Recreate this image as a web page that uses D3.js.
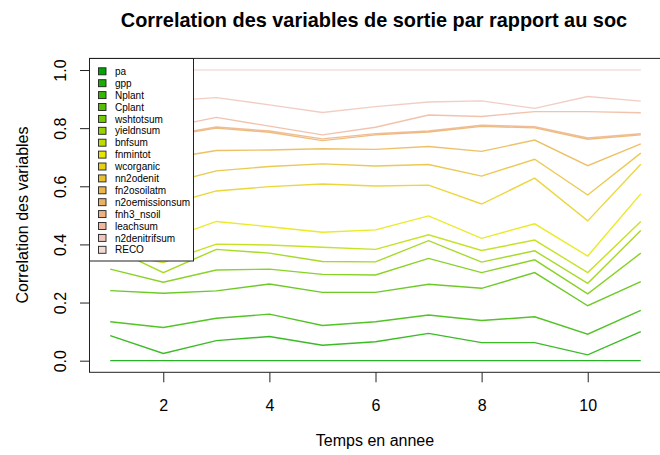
<!DOCTYPE html>
<html>
<head>
<meta charset="utf-8">
<script src="https://cdn.jsdelivr.net/npm/d3@7/dist/d3.min.js"></script>
<style>
  html, body { margin: 0; padding: 0; background: #fff; }
  svg { display: block; font-family: "Liberation Sans", Arial, Helvetica, sans-serif; }
</style>
</head>
<body>
<svg id="chart" width="660" height="455"></svg>
<script>
// Years of simulation (x axis)
const years = [1, 2, 3, 4, 5, 6, 7, 8, 9, 10, 11];
const xTicks = [2, 4, 6, 8, 10];
const yTicks = [0, 0.2, 0.4, 0.6, 0.8, 1.0];

// Output variable names, in legend order
const variables = ["pa", "gpp", "Nplant", "Cplant", "wshtotsum", "yieldnsum", "bnfsum",
  "fnmintot", "wcorganic", "nn2odenit", "fn2osoilatm", "n2oemissionsum", "fnh3_nsoil",
  "leachsum", "n2denitrifsum", "RECO"];

// Correlation with soc, per year
const pa             = [0, 0, 0, 0, 0, 0, 0, 0, 0, 0, 0];
const gpp            = [0.086, 0.025, 0.069, 0.083, 0.053, 0.065, 0.094, 0.062, 0.062, 0.020, 0.100];
const Nplant         = [0.134, 0.114, 0.146, 0.160, 0.121, 0.134, 0.157, 0.138, 0.151, 0.091, 0.173];
const Cplant         = [0.241, 0.232, 0.240, 0.264, 0.235, 0.235, 0.263, 0.249, 0.303, 0.189, 0.272];
const wshtotsum      = [0.315, 0.270, 0.312, 0.315, 0.297, 0.295, 0.352, 0.303, 0.347, 0.230, 0.370];
const yieldnsum      = [0.390, 0.303, 0.383, 0.370, 0.341, 0.340, 0.413, 0.339, 0.378, 0.266, 0.448];
const bnfsum         = [0.370, 0.338, 0.401, 0.398, 0.390, 0.383, 0.433, 0.379, 0.415, 0.303, 0.479];
const fnmintot       = [0.440, 0.414, 0.479, 0.461, 0.442, 0.450, 0.498, 0.421, 0.471, 0.360, 0.574];
const wcorganic      = [0.510, 0.533, 0.584, 0.599, 0.608, 0.601, 0.604, 0.539, 0.628, 0.481, 0.676];
const nn2odenit      = [0.590, 0.606, 0.653, 0.668, 0.677, 0.670, 0.675, 0.635, 0.693, 0.570, 0.714];
const fn2osoilatm    = [0.680, 0.693, 0.723, 0.725, 0.729, 0.727, 0.737, 0.720, 0.759, 0.671, 0.746];
const n2oemissionsum = [0.760, 0.770, 0.800, 0.786, 0.757, 0.777, 0.787, 0.806, 0.801, 0.762, 0.777];
const fnh3_nsoil     = [0.765, 0.773, 0.804, 0.790, 0.763, 0.781, 0.790, 0.810, 0.805, 0.766, 0.781];
const leachsum       = [0.790, 0.800, 0.837, 0.807, 0.777, 0.803, 0.845, 0.840, 0.857, 0.857, 0.853];
const n2denitrifsum  = [0.880, 0.893, 0.905, 0.880, 0.854, 0.874, 0.890, 0.894, 0.868, 0.909, 0.893];
const RECO           = [1, 1, 1, 1, 1, 1, 1, 1, 1, 1, 1];

// terrain-style palette, green -> yellow -> tan -> pale pink
const palette = ["#00A600", "#19AF00", "#35B800", "#53C100", "#74CA00", "#97D300", "#BDDC00",
  "#E6E600", "#E7D01A", "#E8C034", "#EAB64E", "#EBB169", "#EDB283", "#EEB99F", "#EFC6BA", "#F1D9D6"];

const seriesValues = [pa, gpp, Nplant, Cplant, wshtotsum, yieldnsum, bnfsum, fnmintot,
  wcorganic, nn2odenit, fn2osoilatm, n2oemissionsum, fnh3_nsoil, leachsum, n2denitrifsum, RECO];
const series = variables.map((name, i) => ({
  name,
  color: palette[i],
  points: years.map((yr, j) => ({ x: yr, y: seriesValues[i][j] }))
}));

const svg = d3.select("#chart");
const plot = { left: 89, top: 58.4, right: 662, bottom: 372.3 };

svg.append("rect").attr("width", 660).attr("height", 455).attr("fill", "#fff");

const x = d3.scaleLinear().domain([0.6, 11.4]).range([plot.left, plot.right]);
const y = d3.scaleLinear().domain([-0.04, 1.04]).range([plot.bottom, plot.top]);

svg.append("clipPath").attr("id", "plotClip")
  .append("rect")
  .attr("x", plot.left).attr("y", plot.top)
  .attr("width", plot.right - plot.left).attr("height", plot.bottom - plot.top);

// Series lines
const line = d3.line().x(d => x(d.x)).y(d => y(d.y));
svg.append("g").attr("clip-path", "url(#plotClip)")
  .selectAll("path")
  .data(series)
  .join("path")
  .attr("d", d => line(d.points))
  .attr("fill", "none")
  .attr("stroke", d => d.color)
  .attr("stroke-opacity", 0.85)
  .attr("stroke-width", 1.4)
  .attr("stroke-linejoin", "miter");

// Axes
const axisColor = "#222";
const xAxis = svg.append("g")
  .attr("transform", `translate(0,${plot.bottom})`)
  .call(d3.axisBottom(x).tickValues(xTicks).tickSize(10).tickFormat(d3.format("d")));
xAxis.select(".domain").remove();
xAxis.selectAll("line").attr("stroke", axisColor);
xAxis.selectAll("text")
  .attr("y", 38.4).attr("dy", null)
  .attr("fill", "#000")
  .style("font-size", "16px")
  .style("font-family", "'Liberation Sans', Arial, sans-serif");

const yAxis = svg.append("g")
  .attr("transform", `translate(${plot.left},0)`)
  .call(d3.axisLeft(y).tickValues(yTicks).tickSize(9).tickFormat(d3.format(".1f")));
yAxis.select(".domain").remove();
yAxis.selectAll("line").attr("stroke", axisColor);
yAxis.selectAll("text")
  .attr("x", null).attr("dy", null)
  .attr("transform", "translate(-23,0) rotate(-90)")
  .attr("text-anchor", "middle")
  .attr("fill", "#000")
  .style("font-size", "16px")
  .style("font-family", "'Liberation Sans', Arial, sans-serif");

// Legend
const legend = svg.append("g");
legend.append("rect")
  .attr("x", 89.5).attr("y", 58.5)
  .attr("width", 104).attr("height", 202.5)
  .attr("fill", "#fff").attr("stroke", axisColor).attr("stroke-width", 1);
const item = legend.selectAll("g.item")
  .data(series)
  .join("g")
  .attr("class", "item")
  .attr("transform", (d, i) => `translate(0,${71.3 + i * 11.9})`);
item.append("rect")
  .attr("x", 98.5).attr("y", -3.5)
  .attr("width", 7.5).attr("height", 7)
  .attr("fill", d => d.color)
  .attr("stroke", "#222").attr("stroke-width", 0.9);
item.append("text")
  .attr("x", 115).attr("y", 3.6)
  .style("font-size", "10px")
  .attr("fill", "#000")
  .text(d => d.name);

// Plot frame
svg.append("rect")
  .attr("x", plot.left + 0.5).attr("y", plot.top)
  .attr("width", plot.right - plot.left).attr("height", plot.bottom - plot.top)
  .attr("fill", "none").attr("stroke", axisColor).attr("stroke-width", 1);

// Titles
svg.append("text")
  .attr("x", 374).attr("y", 27)
  .attr("text-anchor", "middle")
  .style("font-size", "19.9px").style("font-weight", "bold")
  .text("Correlation des variables de sortie par rapport au soc");

svg.append("text")
  .attr("x", 375).attr("y", 446)
  .attr("text-anchor", "middle")
  .style("font-size", "16px")
  .text("Temps en annee");

svg.append("text")
  .attr("transform", "translate(28,215) rotate(-90)")
  .attr("text-anchor", "middle")
  .style("font-size", "16px")
  .text("Correlation des variables");
</script>
</body>
</html>
